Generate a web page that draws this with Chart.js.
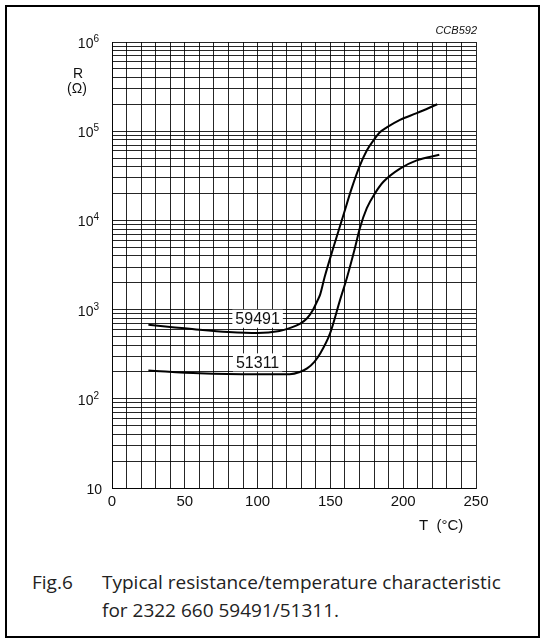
<!DOCTYPE html>
<html>
<head>
<meta charset="utf-8">
<script src="https://cdn.jsdelivr.net/npm/chart.js@4.4.1/dist/chart.umd.min.js"></script>
<style>
  html, body { margin: 0; padding: 0; background: #fff; }
  #page { position: relative; width: 545px; height: 643px; overflow: hidden; }
  #frame { position: absolute; left: 5px; top: 5px; width: 531px; height: 629px; border: 2px solid #000; }
  #chart { position: absolute; left: 0; top: 0; }
  .cap { position: absolute; font-family: "Open Sans", sans-serif; font-size: 19px; line-height: 28px; color: #222; white-space: nowrap; }
</style>
</head>
<body>
<div id="page">
  <div id="frame"></div>
  <canvas id="chart" width="545" height="560"></canvas>
  <div class="cap" style="left:32px; top:568px;">Fig.6</div>
  <div class="cap" style="left:102px; top:568px;">Typical resistance/temperature characteristic<br>for 2322 660 59491/51311.</div>
</div>
<script>
// temperature in degC, resistance in ohm
const temps59491 = [25, 40, 60, 80, 100, 115, 122, 129, 134, 138, 141, 143, 146, 152, 159, 164.6, 170.3, 175, 179.5, 184, 188.7, 197.8, 209.3, 223.4];
const res59491 = [675, 640, 594, 560, 545, 575, 620, 692, 800, 991, 1250, 1480, 2300, 4940, 11560, 22860, 41400, 60800, 78500, 97300, 110400, 134300, 159200, 200400];

const temps51311 = [25, 60, 100, 122, 129, 134, 139, 143, 149.7, 156.6, 161.4, 166.9, 170.3, 175, 180.6, 186.4, 197.8, 209.3, 224.8];
const res51311 = [208, 193, 188, 189, 200, 219, 260, 322, 537, 1277, 2296, 4940, 8240, 13700, 20100, 27100, 38100, 47100, 54400];

const seriesNames = ['59491', '51311'];
const xTickLabels = [0, 50, 100, 150, 200, 250];
const yDecades = [1, 2, 3, 4, 5, 6];   // 10^1 .. 10^6

// where the curve names sit (data coords)
const nameAnchors = [[100, 790], [100, 256]];

const gridColor = 'rgba(0,0,0,0.85)';

// log grid: 1..9 in every decade
const yGrid = [];
yDecades.slice(0, -1).forEach(e => {
  for (let m = 1; m < 10; m++) yGrid.push(m * Math.pow(10, e));
});
yGrid.push(Math.pow(10, yDecades[yDecades.length - 1]));

const toPoints = (xs, ys) => xs.map((t, i) => ({ x: t, y: ys[i] }));

const labels = {
  id: 'labels',
  afterDatasetsDraw(chart) {
    const { ctx, scales: { x, y } } = chart;
    ctx.save();
    ctx.font = '16px "Liberation Sans", Arial, sans-serif';
    ctx.textAlign = 'center';
    ctx.textBaseline = 'middle';
    seriesNames.forEach((name, i) => {
      const px = x.getPixelForValue(nameAnchors[i][0]);
      const py = y.getPixelForValue(nameAnchors[i][1]);
      const w = ctx.measureText(name).width + 6;
      ctx.fillStyle = '#fff';
      ctx.fillRect(px - w / 2, py - 9, w, 18);
      ctx.fillStyle = '#111';
      ctx.fillText(name, px, py + 1);
    });
    ctx.restore();
  },
  afterDraw(chart) {
    const { ctx, scales: { y } } = chart;
    ctx.save();
    ctx.fillStyle = '#111';
    ctx.textBaseline = 'alphabetic';
    // y tick labels as 10 with superscript exponent
    yDecades.forEach(e => {
      const py = y.getPixelForValue(Math.pow(10, e));
      if (e === 1) {
        ctx.font = '14px "Liberation Sans", Arial, sans-serif';
        ctx.textAlign = 'right';
        ctx.fillText('10', 102, py + 6);
      } else {
        ctx.font = '10px "Liberation Sans", Arial, sans-serif';
        ctx.textAlign = 'right';
        ctx.fillText(String(e), 99, py);
        const ew = ctx.measureText(String(e)).width;
        ctx.font = '14px "Liberation Sans", Arial, sans-serif';
        ctx.fillText('10', 99 - ew, py + 6);
      }
    });
    ctx.font = '14px "Liberation Sans", Arial, sans-serif';
    ctx.textAlign = 'center';
    ctx.fillText('R', 78, 78);
    ctx.fillText('(\u03a9)', 77, 93);
    ctx.textAlign = 'left';
    ctx.font = '15px "Liberation Sans", Arial, sans-serif';
    ctx.fillText('T  (\u00b0C)', 419, 530);
    ctx.textAlign = 'right';
    ctx.font = 'italic 11px "Liberation Sans", Arial, sans-serif';
    ctx.fillText('CCB592', 477, 34);
    ctx.restore();
  }
};

new Chart(document.getElementById('chart'), {
  type: 'line',
  data: {
    datasets: [
      { label: seriesNames[0], data: toPoints(temps59491, res59491) },
      { label: seriesNames[1], data: toPoints(temps51311, res51311) }
    ]
  },
  options: {
    responsive: false,
    animation: false,
    devicePixelRatio: 1,
    layout: { padding: { left: 112, right: 69, top: 42, bottom: 44 } },
    elements: {
      line: { borderColor: '#000', borderWidth: 2, cubicInterpolationMode: 'monotone', fill: false },
      point: { radius: 0 }
    },
    plugins: { legend: { display: false }, tooltip: { enabled: false } },
    scales: {
      x: {
        type: 'linear',
        min: 0,
        max: 250,
        ticks: {
          stepSize: 10,
          autoSkip: false,
          maxRotation: 0,
          padding: 5,
          color: '#111',
          font: { family: '"Liberation Sans", Arial, sans-serif', size: 15 },
          callback: v => xTickLabels.includes(v) ? String(v) : ''
        },
        grid: { color: gridColor, drawTicks: false },
        border: { color: gridColor }
      },
      y: {
        type: 'logarithmic',
        min: 10,
        max: 1e6,
        afterBuildTicks: axis => { axis.ticks = yGrid.map(v => ({ value: v })); },
        ticks: { display: false },
        grid: { color: gridColor, drawTicks: false },
        border: { color: gridColor }
      }
    }
  },
  plugins: [labels]
});
</script>
</body>
</html>
